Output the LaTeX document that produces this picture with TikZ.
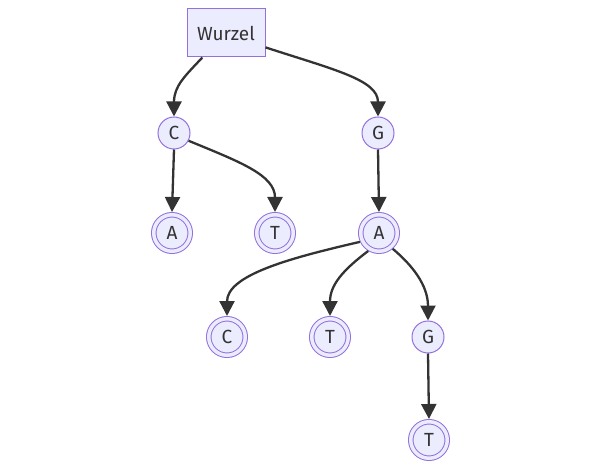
\documentclass[tikz,border=0pt]{standalone}
\usepackage{fontspec}
\setmainfont{Fira Sans}
\usetikzlibrary{arrows.meta}
\definecolor{nodefill}{HTML}{ECECFF}
\definecolor{nodeline}{HTML}{9370DB}
\definecolor{ink}{HTML}{333333}
\begin{document}
\begin{tikzpicture}[x=1pt,y=-1pt,
  every node/.style={font=\fontsize{19}{22}\selectfont, text=ink},
  rootbox/.style={draw=nodeline, fill=nodefill, line width=1pt, minimum width=78pt, minimum height=48pt, inner sep=0pt},
  inner/.style={circle, draw=nodeline, fill=nodefill, line width=1pt, minimum size=32pt, inner sep=0pt},
  leaf/.style={circle, draw=nodeline, fill=nodefill, line width=1pt, double=nodefill, double distance=3.5pt, minimum size=36.5pt, inner sep=0pt, outer sep=2.75pt},
  link/.style={draw=ink, line width=2.3pt, -{Triangle[length=15pt,width=15pt]}}]
\useasboundingbox (0,0) rectangle (600,473);
% nodes
\node[rootbox] (root) at (226,33) {Wurzel};
\node[inner] (c1) at (174,133) {C};
\node[inner] (g1) at (378,133) {G};
\node[leaf] (a1) at (172,233) {A};
\node[leaf] (t1) at (275,233) {T};
\node[leaf] (a2) at (379,233) {A};
\node[leaf] (c2) at (227,337) {C};
\node[leaf] (t2) at (330,337) {T};
\node[inner] (g2) at (428,337) {G};
\node[leaf] (t3) at (429,440) {T};
% connectors
\path[link] (root.226) .. controls (185,76) and (174,86) .. (c1.north);
\path[link] (root.-20) .. controls (335,70) and (378,80) .. (g1.north);
\path[link] (c1.south) -- (a1.north);
\path[link] (c1.-28) .. controls (240,162) and (275,175) .. (t1.north);
\path[link] (g1.south) -- (a2.north);
\path[link] (a2.205) .. controls (290,258) and (227,275) .. (c2.north);
\path[link] (a2.239) .. controls (343,270) and (330,285) .. (t2.north);
\path[link] (a2.311) .. controls (412,265) and (428,285) .. (g2.north);
\path[link] (g2.south) -- (t3.north);
\end{tikzpicture}
\end{document}
